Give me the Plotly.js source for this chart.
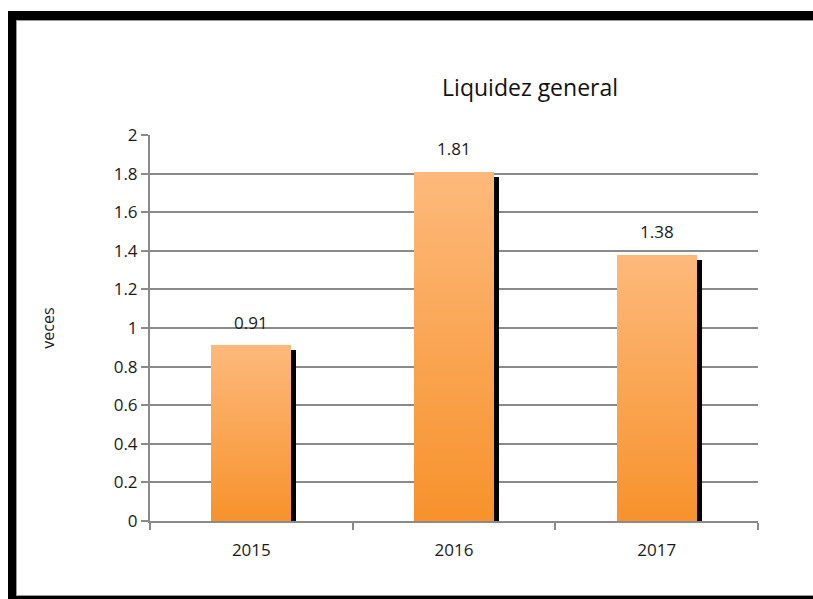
<!DOCTYPE html>
<html>
<head>
<meta charset="utf-8">
<script src="https://cdn.plot.ly/plotly-3.0.1.min.js"></script>
<style>
html,body{margin:0;padding:0;background:#fff;}
#wrap{position:relative;width:813px;height:599px;overflow:hidden;}
#frame{position:absolute;left:8px;top:11px;width:813px;height:588px;box-sizing:border-box;
  border-left:8px solid #000;border-top:9px solid #000;border-bottom:3px solid #000;pointer-events:none;}
#frame:after{content:"";position:absolute;left:0;top:0;right:0;bottom:0;border-left:1px solid #999;border-top:1px solid #999;border-bottom:1px solid #999;}
#chart{position:absolute;left:0;top:0;width:813px;height:599px;}
</style>
</head>
<body>
<div id="wrap">
<div id="chart"></div>
<div id="frame"></div>
</div>
<script>
var categories = ['2015', '2016', '2017'];
var values = [0.91, 1.81, 1.38];
var labels = ['0.91', '1.81', '1.38'];
var yTicks = [0, 0.2, 0.4, 0.6, 0.8, 1, 1.2, 1.4, 1.6, 1.8, 2];
var yTickText = ['0', '0.2', '0.4', '0.6', '0.8', '1', '1.2', '1.4', '1.6', '1.8', '2'];

var barW = 0.395;
var shadowDx = 0.025;
var shadowDy = 0.026;
var font = 'Open Sans, Liberation Sans, sans-serif';
var txtColor = '#1a1a1a';

var shadow = {
  type: 'bar', x: categories, y: values.map(function(v){return v - shadowDy;}),
  width: barW, offset: -barW/2 + shadowDx,
  marker: {color: '#000', line: {width: 0}},
  hoverinfo: 'skip', showlegend: false
};
var main = {
  type: 'bar', x: categories, y: values,
  width: barW, offset: -barW/2,
  marker: {color: '#FBA65A', line: {width: 0}},
  showlegend: false
};

var annotations = categories.map(function(c, i){
  return {x: i, y: values[i], xref: 'x', yref: 'y', text: labels[i], showarrow: false,
    xanchor: 'center', yanchor: 'middle', yshift: 23,
    font: {family: font, size: 17, color: txtColor}};
});

var layout = {
  width: 813, height: 599,
  margin: {l: 150, r: 55, t: 135, b: 78},
  paper_bgcolor: 'rgba(0,0,0,0)', plot_bgcolor: 'rgba(0,0,0,0)',
  barmode: 'overlay',
  annotations: annotations,
  title: {text: 'Liquidez general', x: 0.652, xanchor: 'center', y: 0.853, yanchor: 'middle',
    font: {family: font, size: 23, color: '#111'}},
  xaxis: {type: 'category', range: [-0.5, 2.5], showline: true, linecolor: '#8a8a8a', linewidth: 2,
    ticks: 'outside', ticklen: 7, tickcolor: '#8a8a8a', tickwidth: 2, tickson: 'boundaries',
    ticklabelstandoff: 13,
    showgrid: false, tickfont: {family: font, size: 17, color: txtColor}, fixedrange: true},
  yaxis: {range: [0, 2], tickvals: yTicks, ticktext: yTickText, showline: true, linecolor: '#8a8a8a', linewidth: 2,
    ticks: 'outside', ticklen: 7, tickcolor: '#8a8a8a', tickwidth: 2,
    showgrid: true, gridcolor: '#8a8a8a', gridwidth: 2, zeroline: false,
    tickfont: {family: font, size: 17, color: txtColor},
    title: {text: 'veces', font: {family: font, size: 16, color: txtColor}, standoff: 55},
    fixedrange: true},
  bargap: 0
};

Plotly.newPlot('chart', [shadow, main], layout, {displayModeBar: false, staticPlot: true}).then(function(gd){
  var svg = gd.querySelector('svg.main-svg');
  var ns = 'http://www.w3.org/2000/svg';
  var defs = svg.querySelector('defs') || svg.insertBefore(document.createElementNS(ns,'defs'), svg.firstChild);
  var lg = document.createElementNS(ns, 'linearGradient');
  lg.setAttribute('id', 'barGrad');
  lg.setAttribute('x1', '0'); lg.setAttribute('y1', '0'); lg.setAttribute('x2', '0'); lg.setAttribute('y2', '1');
  var s1 = document.createElementNS(ns, 'stop'); s1.setAttribute('offset', '0'); s1.setAttribute('stop-color', '#FDB97B');
  var s2 = document.createElementNS(ns, 'stop'); s2.setAttribute('offset', '1'); s2.setAttribute('stop-color', '#F7922C');
  lg.appendChild(s1); lg.appendChild(s2); defs.appendChild(lg);
  var traces = gd.querySelectorAll('.barlayer .trace');
  var last = traces[traces.length - 1];
  last.querySelectorAll('path').forEach(function(p){ p.style.fill = 'url(#barGrad)'; });
});
</script>
</body>
</html>
